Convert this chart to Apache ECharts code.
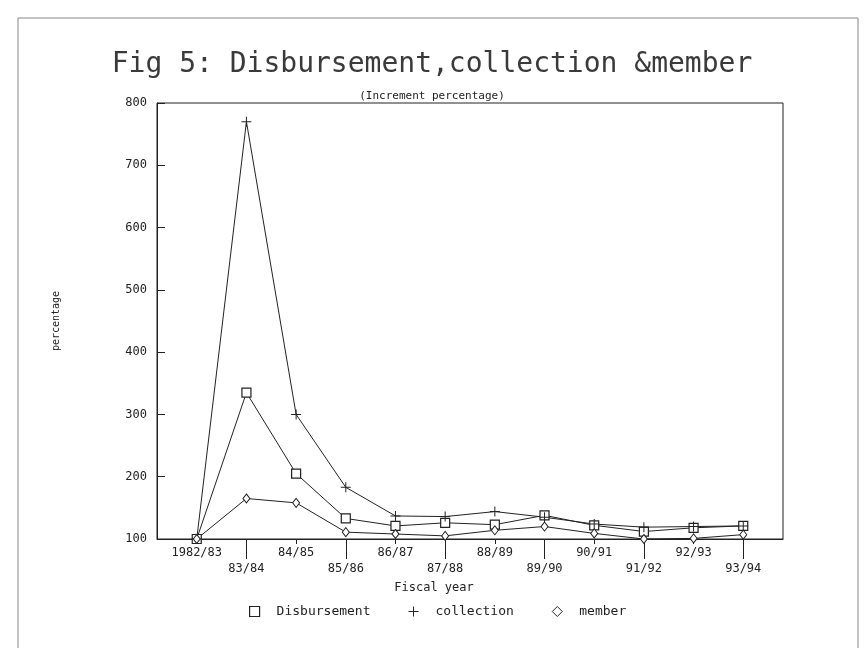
<!DOCTYPE html>
<html>
<head>
<meta charset="utf-8">
<script src="https://cdn.jsdelivr.net/npm/echarts@6/dist/echarts.min.js"></script>
<style>
  html, body { margin: 0; padding: 0; background: #fff; }
  #chart { width: 864px; height: 648px; }
</style>
</head>
<body>
<div id="chart"></div>
<script>
var years = ['1982/83', '83/84', '84/85', '85/86', '86/87', '87/88', '88/89', '89/90', '90/91', '91/92', '92/93', '93/94'];
var disbursement = [100, 335, 205, 133, 121, 126, 123, 138, 122, 112, 118, 121];
var collection = [100, 770, 300, 183, 137, 136, 144, 135, 124, 119, 120, 121];
var member = [100, 165, 158, 111, 108, 105, 114, 120, 109, 100, 101, 107];
var yTicks = [100, 200, 300, 400, 500, 600, 700, 800];

var ink = '#222';
var mono = 'DejaVu Sans Mono';
var plusPath = 'path://M9,0H11V9H20V11H11V20H9V11H0V9H9Z';

function pairs(arr) {
    return arr.map(function (v, i) { return [i, v]; });
}

var idx = years.map(function (y, i) { return i; });
var evenIdx = idx.filter(function (i) { return i % 2 === 0; });
var oddIdx = idx.filter(function (i) { return i % 2 === 1; });

var chart = echarts.init(document.getElementById('chart'));

var option = {
    backgroundColor: '#fff',
    animation: false,
    textStyle: { fontFamily: mono, color: ink },
    title: [
        {
            text: 'Fig 5: Disbursement,collection &member',
            left: 'center',
            top: 46,
            textStyle: { fontFamily: mono, fontSize: 28, fontWeight: 'normal', color: '#3a3a3a' }
        },
        {
            text: '(Increment percentage)',
            left: 'center',
            top: 86,
            textStyle: { fontFamily: mono, fontSize: 11, fontWeight: 'normal', color: ink }
        }
    ],
    graphic: [
        {
            type: 'rect',
            shape: { x: 18, y: 18, width: 840, height: 660 },
            style: { fill: 'none', stroke: '#888', lineWidth: 1 },
            silent: true
        }
    ],
    legend: {
        left: 244,
        top: 600,
        itemWidth: 10,
        itemHeight: 10,
        itemGap: 38,
        textStyle: { fontFamily: mono, fontSize: 13, color: ink, padding: [0, 0, 0, 12] },
        data: [
            { name: 'Disbursement', icon: 'rect', itemStyle: { color: '#fff', borderColor: ink, borderWidth: 1.2 } },
            { name: 'collection', icon: plusPath, itemStyle: { color: ink, borderWidth: 0 } },
            { name: 'member', icon: 'diamond', itemStyle: { color: '#fff', borderColor: ink, borderWidth: 1 } }
        ]
    },
    grid: {
        left: 157,
        right: 81,
        top: 103,
        bottom: 109,
        show: true,
        borderColor: ink,
        borderWidth: 1,
        containLabel: false
    },
    xAxis: [
        {
            type: 'value',
            min: -0.8,
            max: 11.8,
            position: 'bottom',
            name: 'Fiscal year',
            nameLocation: 'middle',
            nameGap: 38,
            nameTextStyle: { fontFamily: mono, fontSize: 12, color: ink, padding: [0, 72, 0, 0] },
            splitLine: { show: false },
            axisLine: { show: true, onZero: false, lineStyle: { color: ink, width: 1 } },
            axisTick: { show: true, customValues: evenIdx, length: 5, lineStyle: { color: ink } },
            axisLabel: {
                customValues: idx,
                margin: 6,
                fontFamily: mono,
                fontSize: 12,
                color: ink,
                lineHeight: 16,
                formatter: function (v) {
                    var i = Math.round(v);
                    return i % 2 === 1 ? '\n' + years[i] : years[i];
                }
            }
        },
        {
            type: 'value',
            min: -0.8,
            max: 11.8,
            position: 'bottom',
            offset: 0,
            splitLine: { show: false },
            axisLine: { show: false, onZero: false },
            axisTick: { show: true, customValues: oddIdx, length: 20, lineStyle: { color: ink } },
            axisLabel: { show: false }
        }
    ],
    yAxis: {
        type: 'value',
        min: 100,
        max: 800,
        interval: 100,
        name: 'percentage',
        nameLocation: 'middle',
        nameGap: 96,
        nameRotate: 90,
        nameTextStyle: { fontFamily: mono, fontSize: 10, color: ink },
        splitLine: { show: false },
        axisLine: { show: true, onZero: false, lineStyle: { color: ink, width: 1 } },
        axisTick: { show: true, inside: true, length: 8, lineStyle: { color: ink } },
        axisLabel: {
            margin: 10,
            fontFamily: mono,
            fontSize: 12,
            color: ink,
            customValues: yTicks
        }
    },
    series: [
        {
            name: 'Disbursement',
            type: 'line',
            xAxisIndex: 0,
            data: pairs(disbursement),
            symbol: 'rect',
            symbolSize: 9,
            itemStyle: { color: '#fff', borderColor: ink, borderWidth: 1.2 },
            lineStyle: { color: ink, width: 1 }
        },
        {
            name: 'collection',
            type: 'line',
            xAxisIndex: 0,
            data: pairs(collection),
            symbol: plusPath,
            symbolSize: 10,
            itemStyle: { color: ink, borderWidth: 0 },
            lineStyle: { color: ink, width: 1 }
        },
        {
            name: 'member',
            type: 'line',
            xAxisIndex: 0,
            data: pairs(member),
            symbol: 'diamond',
            symbolSize: [7, 9],
            itemStyle: { color: '#fff', borderColor: ink, borderWidth: 1 },
            lineStyle: { color: ink, width: 1 }
        }
    ]
};

chart.setOption(option);
</script>
</body>
</html>
